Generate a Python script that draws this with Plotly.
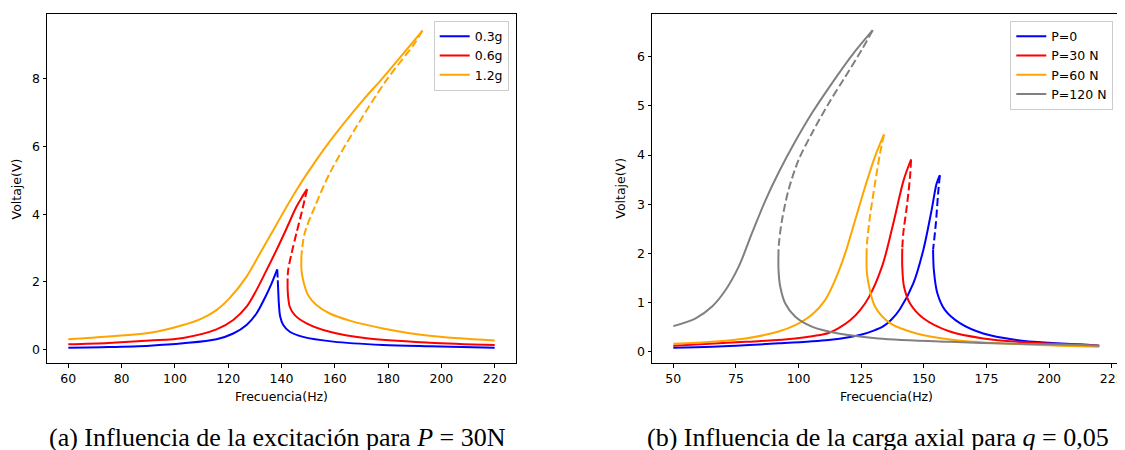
import plotly.graph_objects as go

# ---------------- Panel (a): influence of excitation, P = 30 N ----------------
a_labels = ["0.3g", "0.6g", "1.2g"]

a03_up_f = [60, 75, 90.6, 103.1, 115.6, 121.9, 126.9, 130.6, 133.7, 136.3, 138.4]
a03_up_v = [0.06, 0.08, 0.12, 0.19, 0.31, 0.48, 0.73, 1.07, 1.52, 1.96, 2.37]
a03_un_f = [138.4, 138.6]
a03_un_v = [2.37, 2.05]
a03_lo_f = [138.6, 138.8, 139.0, 139.5, 140.6, 143.1, 148.1, 159.4, 178.1, 195.6, 220]
a03_lo_v = [2.05, 1.70, 1.37, 0.98, 0.74, 0.53, 0.38, 0.24, 0.14, 0.10, 0.06]

a06_up_f = [60, 75, 90.6, 103.1, 115.6, 121.9, 126.9, 130.6, 134.4, 138.1, 141.9, 145.6, 147.8, 149.6]
a06_up_v = [0.16, 0.20, 0.27, 0.35, 0.60, 0.88, 1.27, 1.76, 2.35, 2.94, 3.58, 4.22, 4.52, 4.74]
a06_un_f = [149.6, 147.5, 145.6, 143.8, 142.5, 142.3]
a06_un_v = [4.74, 4.03, 3.44, 2.85, 2.35, 2.10]
a06_lo_f = [142.3, 142.3, 142.5, 143.1, 145.0, 149.4, 158.1, 171.9, 195.6, 220]
a06_lo_v = [2.10, 1.80, 1.56, 1.27, 1.02, 0.78, 0.53, 0.34, 0.21, 0.14]

a12_up_f = [60, 75, 90.6, 103.1, 110, 115.6, 120.6, 126.9, 131.9, 136.9, 141.9, 145.6, 149.1, 158.1, 170.6, 177.3, 183.1, 192.9]
a12_up_v = [0.31, 0.39, 0.50, 0.73, 0.92, 1.17, 1.53, 2.16, 2.84, 3.53, 4.22, 4.71, 5.14, 6.15, 7.37, 7.96, 8.50, 9.42]
a12_un_f = [192.9, 190.0, 179.4, 168.1, 158.1, 152.5, 148.7, 147.5]
a12_un_v = [9.42, 9.05, 7.96, 6.58, 5.21, 4.22, 3.44, 2.80]
a12_lo_f = [147.5, 147.5, 148.4, 150.0, 153.1, 158.1, 165.6, 178.1, 195.6, 220]
a12_lo_v = [2.80, 2.35, 1.96, 1.61, 1.32, 1.07, 0.86, 0.63, 0.41, 0.27]

a_xticks = [60, 80, 100, 120, 140, 160, 180, 200, 220]
a_yticks = [0, 2, 4, 6, 8]

# ---------------- Panel (b): influence of axial load, q = 0.05 ----------------
b_labels = ["P=0", "P=30 N", "P=60 N", "P=120 N"]

b0_up_f = [50, 65.5, 92, 112, 120.6, 125.2, 130, 133.9, 137, 140.5, 145.8, 149.8, 153.1, 155.1, 156.4]
b0_up_v = [0.08, 0.10, 0.17, 0.24, 0.30, 0.35, 0.43, 0.52, 0.65, 0.87, 1.39, 2.07, 2.88, 3.42, 3.59]
b0_un_f = [156.4, 155.7, 154.8, 153.7]
b0_un_v = [3.59, 3.22, 2.61, 2.08]
b0_lo_f = [153.7, 154.0, 155.4, 158.4, 164.4, 173.7, 186.9, 200, 212.1, 220]
b0_lo_v = [2.08, 1.66, 1.19, 0.85, 0.58, 0.37, 0.24, 0.18, 0.15, 0.12]

b30_up_f = [50, 78.8, 98.7, 112, 116, 120.6, 124.5, 128.2, 133.5, 137.8, 142.0, 144.9]
b30_up_v = [0.12, 0.20, 0.27, 0.38, 0.48, 0.64, 0.84, 1.12, 1.76, 2.61, 3.50, 3.91]
b30_un_f = [144.9, 144.5, 143.2, 141.8, 141.4]
b30_un_v = [3.91, 3.56, 2.95, 2.41, 2.10]
b30_lo_f = [141.4, 141.4, 142.1, 144.5, 149.8, 160.4, 173.7, 193.6, 212.1, 220]
b30_lo_v = [2.10, 1.73, 1.32, 0.98, 0.68, 0.41, 0.27, 0.18, 0.14, 0.12]

b60_up_f = [50, 65.5, 78.8, 92, 98.7, 105.3, 110.6, 114.6, 118.6, 122.6, 126.6, 130.5, 134.1]
b60_up_v = [0.16, 0.20, 0.27, 0.41, 0.54, 0.75, 1.05, 1.46, 2.00, 2.68, 3.36, 3.97, 4.42]
b60_un_f = [134.1, 132.5, 130.5, 128.5, 127.3, 127.2]
b60_un_v = [4.42, 4.03, 3.42, 2.75, 2.20, 2.10]
b60_lo_f = [127.2, 127.2, 127.9, 130.5, 136.5, 147.1, 160.4, 180.3, 200, 212.1, 220]
b60_lo_v = [2.10, 1.66, 1.39, 0.92, 0.58, 0.37, 0.25, 0.17, 0.13, 0.11, 0.10]

b120_up_f = [50, 58.9, 65.5, 70.8, 76.1, 81.4, 86.7, 92.0, 98.7, 105.3, 113.3, 121.3, 129.6]
b120_up_v = [0.52, 0.68, 0.92, 1.25, 1.73, 2.41, 3.07, 3.64, 4.28, 4.85, 5.46, 6.03, 6.54]
b120_un_f = [129.6, 125.2, 118.6, 112.0, 105.3, 100.0, 96.0, 93.4, 92.3, 92.0]
b120_un_v = [6.54, 6.14, 5.59, 5.05, 4.44, 3.90, 3.29, 2.68, 2.27, 2.07]
b120_lo_f = [92.0, 92.0, 92.7, 94.7, 98.7, 105.3, 115.9, 131.8, 160.4, 186.9, 212.1, 220]
b120_lo_v = [2.07, 1.66, 1.32, 0.98, 0.71, 0.51, 0.37, 0.27, 0.20, 0.16, 0.14, 0.12]

b_xticks = [50, 75, 100, 125, 150, 175, 200, 225]
b_yticks = [0, 1, 2, 3, 4, 5, 6]

COL_BLUE, COL_RED, COL_ORANGE, COL_GRAY = "#0000ff", "#ff0000", "#ffa500", "#808080"
W, H = 1125, 450
OFF = 8  # page body margin in the browser: screen pixel = figure pixel + 8


def fx(sx):
    return (sx - OFF) / W


def fy(sy):
    return 1 - (sy - OFF) / H


TICK_FONT = dict(family="DejaVu Sans", size=12.5, color="black")
DASH = "8px,3.5px"

fig = go.Figure()


def add_curve(name, color, branches, xa, ya, legend):
    for i, (f, v, dash) in enumerate(branches):
        fig.add_trace(go.Scatter(
            x=f, y=v, mode="lines", name=name, legendgroup=name + xa,
            showlegend=(i == 0), legend=legend, hoverinfo="skip",
            line=dict(color=color, width=2, dash=dash, shape="spline", smoothing=0.9),
            xaxis=xa, yaxis=ya))


add_curve(a_labels[0], COL_BLUE, [(a03_up_f, a03_up_v, "solid"), (a03_un_f, a03_un_v, DASH), (a03_lo_f, a03_lo_v, "solid")], "x", "y", "legend")
add_curve(a_labels[1], COL_RED, [(a06_up_f, a06_up_v, "solid"), (a06_un_f, a06_un_v, DASH), (a06_lo_f, a06_lo_v, "solid")], "x", "y", "legend")
add_curve(a_labels[2], COL_ORANGE, [(a12_up_f, a12_up_v, "solid"), (a12_un_f, a12_un_v, DASH), (a12_lo_f, a12_lo_v, "solid")], "x", "y", "legend")

add_curve(b_labels[0], COL_BLUE, [(b0_up_f, b0_up_v, "solid"), (b0_un_f, b0_un_v, DASH), (b0_lo_f, b0_lo_v, "solid")], "x2", "y2", "legend2")
add_curve(b_labels[1], COL_RED, [(b30_up_f, b30_up_v, "solid"), (b30_un_f, b30_un_v, DASH), (b30_lo_f, b30_lo_v, "solid")], "x2", "y2", "legend2")
add_curve(b_labels[2], COL_ORANGE, [(b60_up_f, b60_up_v, "solid"), (b60_un_f, b60_un_v, DASH), (b60_lo_f, b60_lo_v, "solid")], "x2", "y2", "legend2")
add_curve(b_labels[3], COL_GRAY, [(b120_up_f, b120_up_v, "solid"), (b120_un_f, b120_un_v, DASH), (b120_lo_f, b120_lo_v, "solid")], "x2", "y2", "legend2")


def axis(domain, rng, ticks, anchor):
    return dict(domain=domain, range=rng, tickvals=ticks, anchor=anchor,
                showline=True, mirror=True, linecolor="black", linewidth=1,
                ticks="outside", ticklen=3.5, tickwidth=1, tickcolor="black",
                showgrid=False, zeroline=False, tickfont=TICK_FONT, automargin=False)


ydom = [fy(363.3), fy(14)]
legend_style = dict(font=dict(family="DejaVu Sans", size=12.5, color="black"),
                    bgcolor="rgba(255,255,255,0.8)", bordercolor="#cccccc", borderwidth=1,
                    xanchor="right", yanchor="top", tracegroupgap=0, itemwidth=30)

fig.update_layout(
    width=W, height=H, margin=dict(l=0, r=0, t=0, b=0),
    plot_bgcolor="white", paper_bgcolor="white",
    xaxis=axis([fx(47), fx(516)], [52, 228], a_xticks, "y"),
    yaxis=axis(ydom, [-0.40, 9.91], a_yticks, "x"),
    xaxis2=axis([fx(652), fx(1120)], [41.5, 228.3], b_xticks, "y2"),
    yaxis2=axis(ydom, [-0.236, 6.87], b_yticks, "x2"),
    legend=dict(x=fx(508.7), y=fy(20.7), **legend_style),
    legend2=dict(x=fx(1113.3), y=fy(20.7), **legend_style),
)

ann_font = dict(family="DejaVu Sans", size=12.5, color="black")
cap_font = dict(family="Liberation Serif", size=26, color="black")
annotations = [
    dict(text="Frecuencia(Hz)", x=fx(281.5), y=fy(396.7), font=ann_font),
    dict(text="Frecuencia(Hz)", x=fx(886), y=fy(396.7), font=ann_font),
    dict(text="Voltaje(V)", x=fx(16.7), y=fy(188.7), textangle=-90, font=ann_font),
    dict(text="Voltaje(V)", x=fx(621), y=fy(188.7), textangle=-90, font=ann_font),
    dict(text="(a) Influencia de la excitación para <i>P</i> = 30N", x=fx(277.5), y=fy(437), font=cap_font),
    dict(text="(b) Influencia de la carga axial para <i>q</i> = 0,05", x=fx(877.5), y=fy(437), font=cap_font),
]
for a in annotations:
    a.update(xref="paper", yref="paper", showarrow=False, xanchor="center", yanchor="middle")
fig.update_layout(annotations=annotations)

fig.write_html("out.html")
